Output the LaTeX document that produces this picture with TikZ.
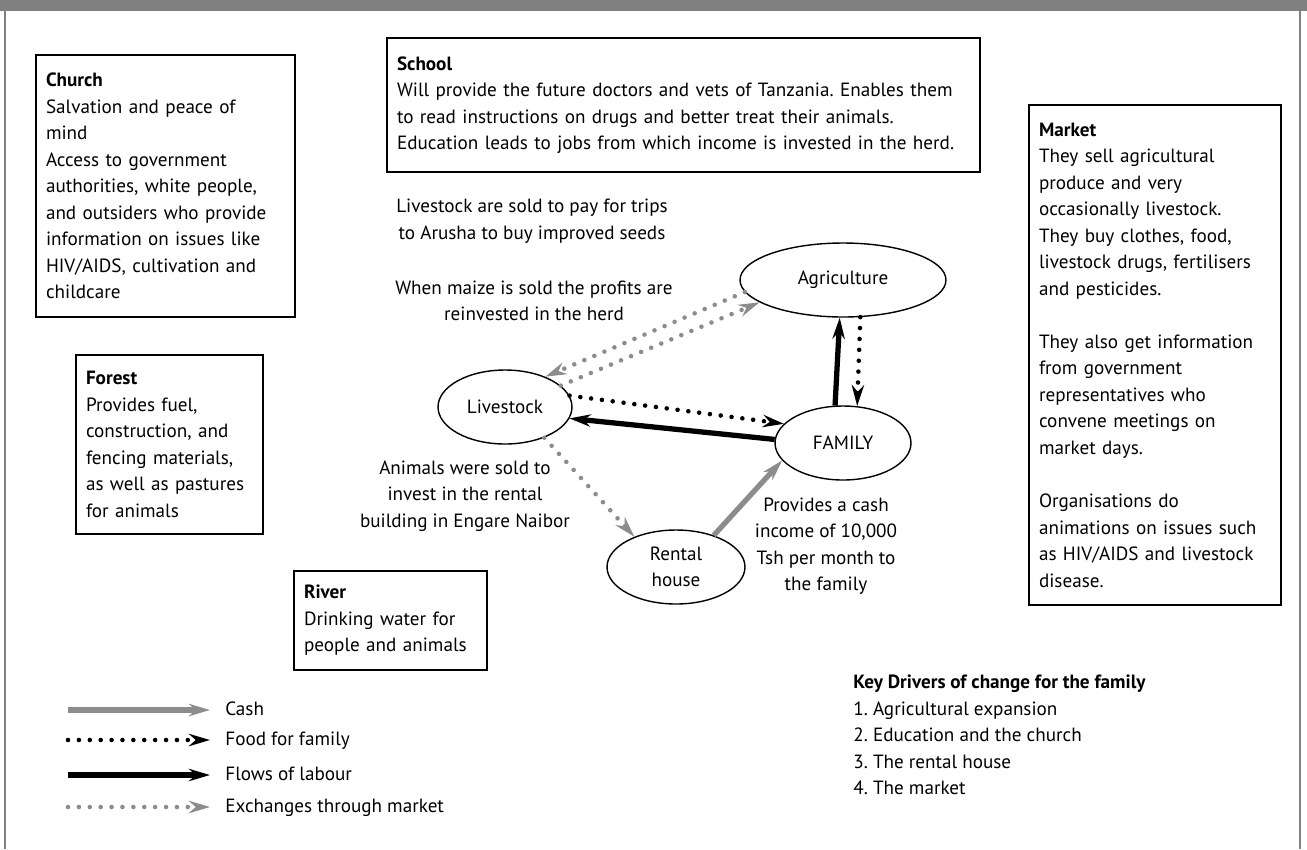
\documentclass[tikz,border=0pt]{standalone}
\usepackage{fontspec}
\setmainfont{PT Sans}
\usetikzlibrary{shapes.geometric,arrows.meta}

\definecolor{flowgray}{RGB}{140,140,140}
\definecolor{bandgray}{RGB}{128,128,128}
\newcommand{\txtsize}{\fontsize{10.9}{15.1}\selectfont\frenchspacing}

\tikzset{
  infobox/.style={draw, line width=0.8pt, inner xsep=0.2cm, inner ysep=0pt,
    text width=#1, align=left, font=\txtsize},
  place/.style={draw, ellipse, line width=0.8pt, inner sep=0pt,
    minimum height=1.48cm, align=center, font=\txtsize},
  note/.style={align=center, inner sep=0pt, font=\txtsize},
  legtext/.style={anchor=west, inner sep=0pt, text height=1.6ex, text depth=0.4ex, font=\txtsize},
  tip/.style={-{Stealth[length=12pt,width=7pt]}},
  cash/.style={tip, draw=flowgray, line width=3pt},
  labour/.style={tip, draw=black, line width=3pt},
  food/.style={tip, draw=black, line width=2.6pt, line cap=round, dash pattern=on 0pt off 6.2pt},
  trade/.style={tip, draw=flowgray, line width=2.6pt, line cap=round, dash pattern=on 0pt off 6.2pt}
}

\begin{document}
\begin{tikzpicture}[x=0.02cm,y=-0.02cm]
  \useasboundingbox (0,0) rectangle (1307,849);
  % frame and top band
  \fill[bandgray] (0,0) rectangle (1307,11);
  \draw[bandgray, line width=0.8pt] (5,11) -- (5,849) (1300,11) -- (1300,849);

  % boxes
  \node[infobox=4.78cm, minimum height=5.24cm] (church) at (165.5,186)
    {\textbf{Church}\\ Salvation and peace of\\ mind\\ Access to government\\ authorities, white people,\\ and outsiders who provide\\ information on issues like\\ HIV/AIDS, cultivation and\\ childcare};
  \node[infobox=11.46cm, minimum height=2.68cm] (school) at (683.5,105)
    {\textbf{School}\\ Will provide the future doctors and vets of Tanzania. Enables them\\ to read instructions on drugs and better treat their animals.\\ Education leads to jobs from which income is invested in the herd.};
  \node[infobox=4.64cm, minimum height=10cm] (market) at (1155,355)
    {\textbf{Market}\\ They sell agricultural\\ produce and very\\ occasionally livestock.\\ They buy clothes, food,\\ livestock drugs, fertilisers\\ and pesticides.\\[15.1pt]
     They also get information\\ from government\\ representatives who\\ convene meetings on\\ market days.\\[15.1pt]
     Organisations do\\ animations on issues such\\ as HIV/AIDS and livestock\\ disease.};
  \node[infobox=3.34cm, minimum height=3.58cm] (forest) at (169.5,444.5)
    {\textbf{Forest}\\ Provides fuel,\\ construction, and\\ fencing materials,\\ as well as pastures\\ for animals};
  \node[infobox=3.46cm, minimum height=1.98cm] (river) at (390.5,620.5)
    {\textbf{River}\\ Drinking water for\\ people and animals};

  % places
  \node[place, minimum width=4.12cm] (agri) at (843,280) {Agriculture};
  \node[place, minimum width=2.72cm] (family) at (843,443) {FAMILY};
  \node[place, minimum width=2.68cm] (live) at (505,407) {Livestock};
  \node[place, minimum width=2.76cm] (rental) at (676,567) {Rental\\ house};

  % notes
  \node[note] (seednote) at (532,221) {Livestock are sold to pay for trips\\ to Arusha to buy improved seeds};
  \node[note] (maizenote) at (534,301) {When maize is sold the profits are\\ reinvested in the herd};
  \node[note] (rentnote) at (465,496) {Animals were sold to\\ invest in the rental\\ building in Engare Naibor};
  \node[note] (incomenote) at (826,546) {Provides a cash\\ income of 10,000\\ Tsh per month to\\ the family};

  % flows
  \draw[trade] (agri.187) -- (live.37);
  \draw[trade] (live.21) -- (agri.195);
  \draw[food] (live.10) -- (family.162);
  \draw[labour] (family.177) -- (live.350);
  \draw[labour] (family.102) -- (agri.265);
  \draw[food] (agri.295) -- (family.69);
  \draw[trade] (live.322) -- (rental.144);
  \draw[cash] (rental.40) -- (family.196);

  % key drivers
  \node[anchor=west, align=left, inner sep=0pt, font=\txtsize] (drivers) at (853,735)
    {\textbf{Key Drivers of change for the family}\\ 1. Agricultural expansion\\ 2. Education and the church\\ 3. The rental house\\ 4. The market};

  % legend
  \foreach \sty/\txt/\yy [count=\i] in {cash/Cash/710, food/Food for family/740,
      labour/Flows of labour/775, trade/Exchanges through market/807} {
    \coordinate (legs\i) at (68,\yy);
    \node[legtext] (leg\i) at (225,\yy) {\txt};
    \draw[\sty, shorten >=0.3cm] (legs\i) -- (leg\i.west);
  }
\end{tikzpicture}
\end{document}
